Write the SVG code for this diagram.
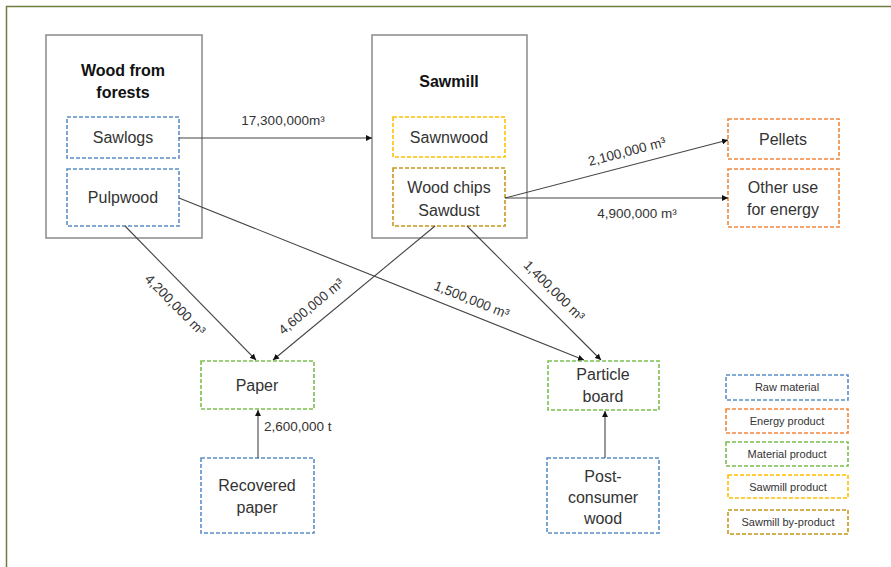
<svg xmlns="http://www.w3.org/2000/svg" width="891" height="567" viewBox="0 0 891 567">
<defs>
<marker id="ah" viewBox="0 0 10 10" refX="10" refY="5" markerWidth="6" markerHeight="6" orient="auto" markerUnits="userSpaceOnUse">
<path d="M0,0 L10,5 L0,10 z" fill="#111"/>
</marker>
</defs>
<style>
text{font-family:"Liberation Sans",Arial,sans-serif;fill:#333;}
.n{font-size:16px;text-anchor:middle;}
.t{font-size:16px;font-weight:bold;text-anchor:middle;fill:#111;}
.e{font-size:13.5px;text-anchor:middle;}
.lg{font-size:11px;text-anchor:middle;}
.big{fill:#fff;stroke:#8a8a8a;stroke-width:1.5;}
.d{fill:#fff;stroke-width:1.6;stroke-dasharray:4,2;}
.raw{stroke:#5b8fc7;}
.en{stroke:#f0883e;}
.mat{stroke:#7cc04e;}
.sp{stroke:#ffc000;}
.bp{stroke:#c9981a;}
.c{fill:none;stroke:#444;stroke-width:1.1;marker-end:url(#ah);}
</style>
<rect width="891" height="567" fill="#fff"/>
<path d="M6.5,567 V6.5 H891" fill="none" stroke="#6e7d3c" stroke-width="1.5"/>

<g id="forests">
<rect class="big" x="46" y="35" width="156" height="203"/>
<text class="t" x="123" y="76">Wood from</text>
<text class="t" x="123" y="98">forests</text>
</g>
<g id="sawlogs">
<rect class="d raw" x="67" y="117" width="112" height="41"/>
<text class="n" x="123" y="143">Sawlogs</text>
</g>
<g id="pulpwood">
<rect class="d raw" x="67" y="169" width="112" height="57"/>
<text class="n" x="123" y="203">Pulpwood</text>
</g>

<g id="sawmill">
<rect class="big" x="372" y="35" width="155" height="203"/>
<text class="t" x="449" y="87">Sawmill</text>
</g>
<g id="sawnwood">
<rect class="d sp" x="393" y="117" width="112" height="40"/>
<text class="n" x="449" y="143">Sawnwood</text>
</g>
<g id="woodchips">
<rect class="d bp" x="393" y="168" width="112" height="58"/>
<text class="n" x="449" y="193">Wood chips</text>
<text class="n" x="449" y="216">Sawdust</text>
</g>

<g id="pellets">
<rect class="d en" x="728" y="119" width="111" height="40"/>
<text class="n" x="783" y="145">Pellets</text>
</g>
<g id="otheruse">
<rect class="d en" x="728" y="169" width="111" height="58"/>
<text class="n" x="783" y="193">Other use</text>
<text class="n" x="783" y="215">for energy</text>
</g>

<g id="paper">
<rect class="d mat" x="201" y="361" width="113" height="48"/>
<text class="n" x="257" y="391">Paper</text>
</g>
<g id="recovered">
<rect class="d raw" x="201" y="458" width="113" height="75"/>
<text class="n" x="257" y="491">Recovered</text>
<text class="n" x="257" y="513">paper</text>
</g>
<g id="particle">
<rect class="d mat" x="548" y="361" width="111" height="49"/>
<text class="n" x="603" y="380">Particle</text>
<text class="n" x="603" y="402">board</text>
</g>
<g id="postconsumer">
<rect class="d raw" x="547" y="458" width="112" height="75"/>
<text class="n" x="603" y="482">Post-</text>
<text class="n" x="603" y="503">consumer</text>
<text class="n" x="603" y="524">wood</text>
</g>

<g id="legend">
<rect class="d raw" x="726" y="375" width="122" height="25"/>
<text class="lg" x="787" y="391">Raw material</text>
<rect class="d en" x="726" y="409" width="122" height="24"/>
<text class="lg" x="787" y="425">Energy product</text>
<rect class="d mat" x="726" y="442" width="122" height="24"/>
<text class="lg" x="787" y="458">Material product</text>
<rect class="d sp" x="728" y="475" width="120" height="23"/>
<text class="lg" x="788" y="491">Sawmill product</text>
<rect class="d bp" x="728" y="510" width="120" height="24"/>
<text class="lg" x="788" y="526">Sawmill by-product</text>
</g>

<g id="connectors">
<line class="c" x1="179" y1="138" x2="372" y2="138"/>
<line class="c" x1="505" y1="198" x2="728" y2="140"/>
<line class="c" x1="505" y1="198" x2="728" y2="198"/>
<line class="c" x1="179" y1="198" x2="584" y2="360"/>
<line class="c" x1="125" y1="226" x2="256" y2="360"/>
<line class="c" x1="435" y1="226" x2="273" y2="360"/>
<line class="c" x1="467" y1="226" x2="601" y2="360"/>
<line class="c" x1="258" y1="458" x2="258" y2="410"/>
<line class="c" x1="605" y1="458" x2="605" y2="411"/>

<text class="e" x="283" y="125">17,300,000m³</text>
<text class="e" transform="translate(628,156) rotate(-14.6)">2,100,000 m³</text>
<text class="e" x="637" y="218">4,900,000 m³</text>
<text class="e" transform="translate(470,304) rotate(21.7)">1,500,000 m³</text>
<text class="e" transform="translate(172,308) rotate(45.4)">4,200,000 m³</text>
<text class="e" transform="translate(314,310) rotate(-39.4)">4,600,000 m³</text>
<text class="e" transform="translate(551,294) rotate(44.8)">1,400,000 m³</text>
<text class="e" x="264" y="431" style="text-anchor:start">2,600,000 t</text>
</g>
</svg>
